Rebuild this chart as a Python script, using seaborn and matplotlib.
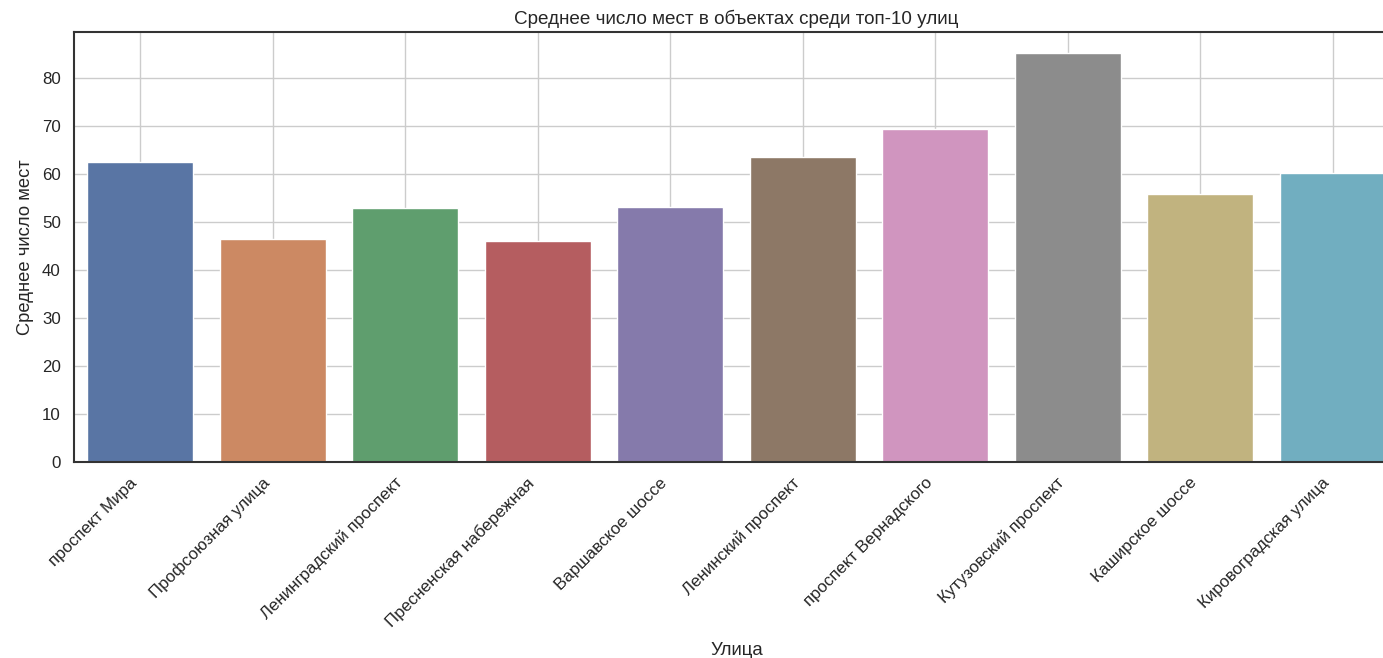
import seaborn as sns
import matplotlib.pyplot as plt
import pandas as pd

streets = ['проспект Мира', 'Профсоюзная улица', 'Ленинградский проспект',
           'Пресненская набережная', 'Варшавское шоссе', 'Ленинский проспект',
           'проспект Вернадского', 'Кутузовский проспект', 'Каширское шоссе',
           'Кировоградская улица']
mean_seats = [62.4, 46.5, 52.8, 45.9, 53.1, 63.4, 69.3, 85.2, 55.8, 60.2]

df = pd.DataFrame({'street': streets, 'seats': mean_seats})

sns.set_theme(style='whitegrid', rc={'axes.edgecolor': '.2', 'axes.linewidth': 1.5,
                                     'grid.color': '.8'})
plt.rcParams['font.family'] = ['Liberation Sans', 'DejaVu Sans']

fig = plt.figure(figsize=(13.83, 6.58), dpi=100)
ax = fig.add_axes([0.0535, 0.298, 0.958, 0.653])
sns.barplot(data=df, x='street', y='seats', hue='street', palette='deep',
            legend=False, ax=ax)
ax.xaxis.grid(True)
ax.set_axisbelow(True)
ax.set_title('Среднее число мест в объектах среди топ-10 улиц', fontsize=13.6, pad=6)
ax.set_xlabel('Улица', fontsize=13.4, labelpad=9)
ax.set_ylabel('Среднее число мест', fontsize=13.2, labelpad=6)
ax.tick_params(axis='both', labelsize=12.2)
plt.setp(ax.get_xticklabels(), rotation=45, ha='right')

fig.savefig('out.png', dpi=100)
